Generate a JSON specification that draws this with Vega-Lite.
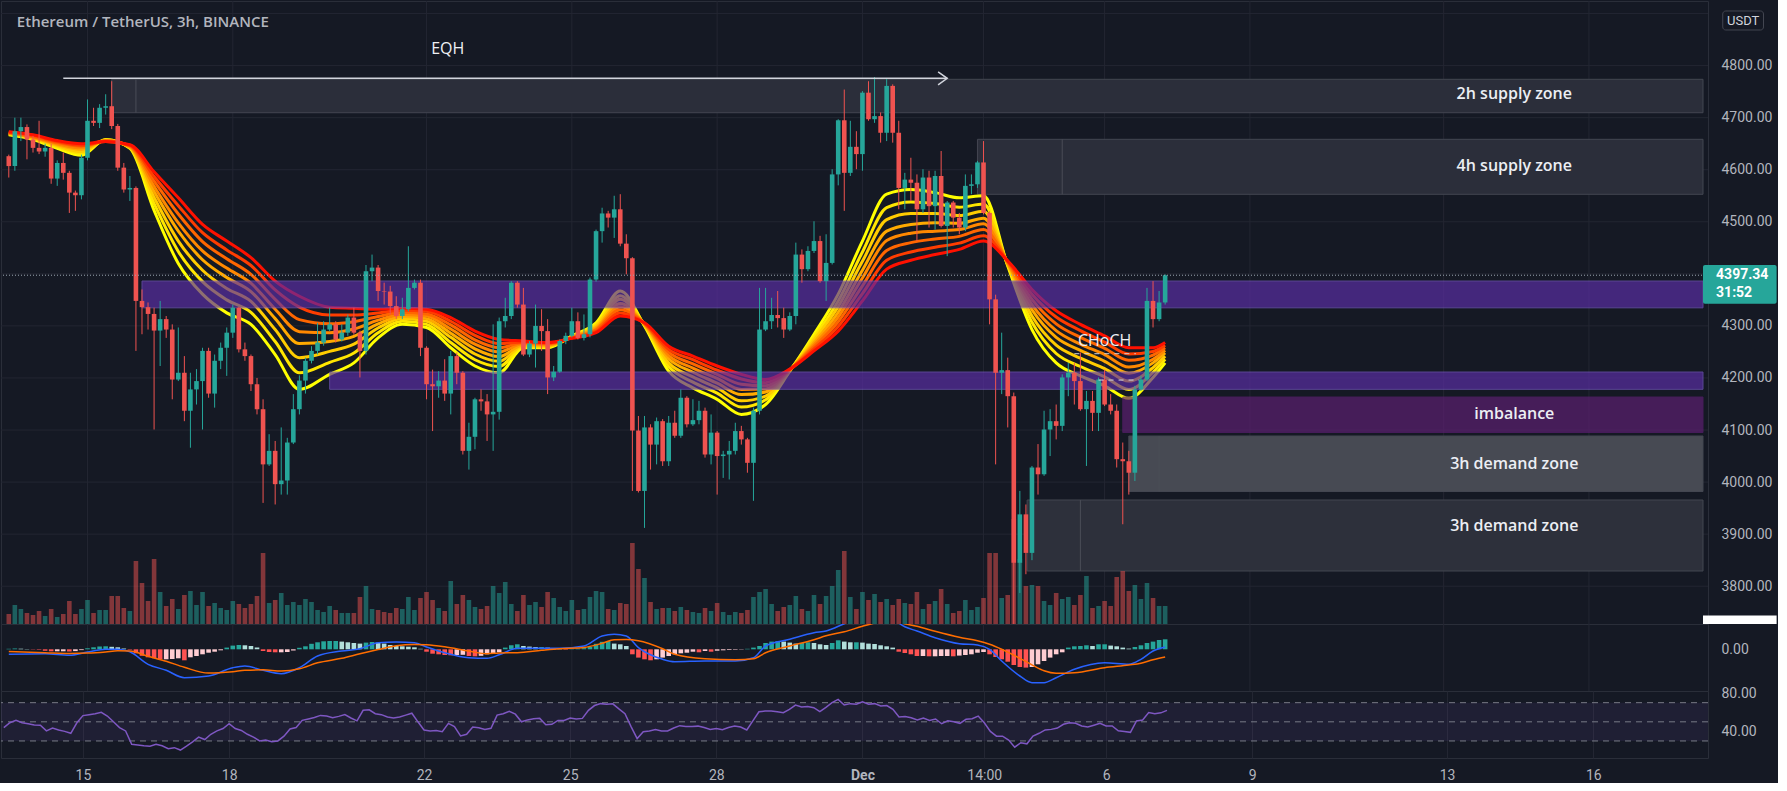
{
"$schema":"https://vega.github.io/schema/vega-lite/v6.json",
"background":"#151924",
"padding":0,
"spacing":0,
"bounds":"flush",
"config":{"view":{"stroke":"#2a2e39"},"axis":{"domain":false,"ticks":false,"labelColor":"#b2b5be","labelFont":"Roboto","labelFontSize":14,"gridColor":"#232632"}},
"datasets":{
"tk":[{"t":"2021-11-15T00:00Z"},{"t":"2021-11-18T00:00Z"},{"t":"2021-11-22T00:00Z"},{"t":"2021-11-25T00:00Z"},{"t":"2021-11-28T00:00Z"},{"t":"2021-12-01T00:00Z"},{"t":"2021-12-03T12:00Z"},{"t":"2021-12-06T00:00Z"},{"t":"2021-12-09T00:00Z"},{"t":"2021-12-13T00:00Z"},{"t":"2021-12-16T00:00Z"}],
"hg":[{"p":3800},{"p":3900},{"p":4000},{"p":4100},{"p":4200},{"p":4300},{"p":4400},{"p":4500},{"p":4600},{"p":4700},{"p":4800},{"p":4900}],
"zg":[{"n":"2h","t1":"2021-11-15T12:00Z","t2":"2021-12-18T08:31Z","p1":4709.5,"p2":4773.7},{"n":"4h","t1":"2021-12-03T09:00Z","t2":"2021-12-18T08:31Z","p1":4552.8,"p2":4658.4},{"n":"d1","t1":"2021-12-06T12:00Z","t2":"2021-12-18T08:31Z","p1":3981.9,"p2":4088.5},{"n":"d2","t1":"2021-12-04T09:36Z","t2":"2021-12-18T08:31Z","p1":3829.2,"p2":3965.6}],
"zl":[{"t":"2021-11-16T00:00Z","p1":4709.5,"p2":4773.7},{"t":"2021-12-05T03:00Z","p1":4552.8,"p2":4658.4},{"t":"2021-12-07T03:00Z","p1":3981.9,"p2":4088.5},{"t":"2021-12-05T12:00Z","p1":3829.2,"p2":3965.6}],
"zp":[{"n":"u","t1":"2021-11-16T03:00Z","t2":"2021-12-18T08:31Z","p1":4334.7,"p2":4386.2},{"n":"l","t1":"2021-11-20T00:00Z","t2":"2021-12-18T08:31Z","p1":4178.2,"p2":4211.4},{"n":"i","t1":"2021-12-06T09:00Z","t2":"2021-12-18T08:31Z","p1":4095.2,"p2":4163.4}],
"eqh":[{"t1":"2021-11-14T12:00Z","t2":"2021-12-02T18:00Z","p":4775.6}],
"dl":[{"t1":"2021-12-05T09:00Z","t2":"2021-12-06T15:30Z","p":4246.6},{"t1":"2021-12-05T21:00Z","t2":"2021-12-06T17:00Z","p":4196}],
"zt":[{"s":"2h supply zone","t":"2021-12-14T11:00Z","p":4746},{"s":"4h supply zone","t":"2021-12-14T11:00Z","p":4607},{"s":"imbalance","t":"2021-12-14T11:00Z","p":4130},{"s":"3h demand zone","t":"2021-12-14T11:00Z","p":4034},{"s":"3h demand zone","t":"2021-12-14T11:00Z","p":3915}],
"at":[{"s":"EQH","t":"2021-11-22T10:30Z","p":4832},{"s":"CHoCH","t":"2021-12-06T00:00Z","p":4271}],
"ti":[{"s":"Ethereum / TetherUS, 3h, BINANCE","t":"2021-11-13T13:00Z","p":4884}],
"tag":[{"t1":"2021-12-18T08:31Z","t2":"2021-12-19T21:00Z","p1":4342.6,"p2":4417.2}],
"tagt":[{"s":"4397.34","t":"2021-12-18T15:00Z","p":4397.8},{"s":"31:52","t":"2021-12-18T15:00Z","p":4362.5}],
"bad":[{"t1":"2021-12-18T18:18Z","t2":"2021-12-19T14:30Z","p1":4868.4,"p2":4904.9}],
"badt":[{"s":"USDT","t":"2021-12-19T04:24Z","p":4886.6}],
"lowb":[{"t1":"2021-12-18T08:31Z","t2":"2021-12-19T21:00Z","p1":3727.4,"p2":3743.5}],
"cp":[{"p":4397.34}],
"rl":[{"r":70},{"r":50},{"r":30}],
"band":[{"a":30,"b":70}],
"rb":[
{"t":"2021-11-13T09:00Z","e1":4667,"e2":4668,"e3":4669,"e4":4670,"e5":4671,"e6":4671,"e7":4672,"e8":4673},
{"t":"2021-11-13T21:00Z","e1":4658,"e2":4660,"e3":4661,"e4":4662,"e5":4663,"e6":4664,"e7":4666,"e8":4667},
{"t":"2021-11-14T09:00Z","e1":4641,"e2":4644,"e3":4646,"e4":4648,"e5":4650,"e6":4652,"e7":4654,"e8":4656},
{"t":"2021-11-14T21:00Z","e1":4628,"e2":4632,"e3":4635,"e4":4639,"e5":4642,"e6":4645,"e7":4647,"e8":4650},
{"t":"2021-11-15T09:00Z","e1":4658,"e2":4657,"e3":4657,"e4":4656,"e5":4656,"e6":4655,"e7":4654,"e8":4654},
{"t":"2021-11-15T21:00Z","e1":4641,"e2":4642,"e3":4643,"e4":4644,"e5":4645,"e6":4646,"e7":4647,"e8":4648},
{"t":"2021-11-16T09:00Z","e1":4522,"e2":4535,"e3":4547,"e4":4558,"e5":4568,"e6":4578,"e7":4587,"e8":4596},
{"t":"2021-11-16T21:00Z","e1":4420,"e2":4443,"e3":4463,"e4":4482,"e5":4498,"e6":4515,"e7":4531,"e8":4546},
{"t":"2021-11-17T09:00Z","e1":4361,"e2":4385,"e3":4407,"e4":4427,"e5":4444,"e6":4462,"e7":4479,"e8":4495},
{"t":"2021-11-17T21:00Z","e1":4325,"e2":4350,"e3":4372,"e4":4393,"e5":4411,"e6":4429,"e7":4446,"e8":4463},
{"t":"2021-11-18T09:00Z","e1":4303,"e2":4326,"e3":4347,"e4":4366,"e5":4382,"e6":4399,"e7":4416,"e8":4431},
{"t":"2021-11-18T21:00Z","e1":4245,"e2":4270,"e3":4293,"e4":4314,"e5":4332,"e6":4351,"e7":4369,"e8":4386},
{"t":"2021-11-19T09:00Z","e1":4178,"e2":4210,"e3":4239,"e4":4266,"e5":4289,"e6":4312,"e7":4336,"e8":4357},
{"t":"2021-11-20T00:00Z","e1":4207,"e2":4230,"e3":4251,"e4":4270,"e5":4287,"e6":4304,"e7":4321,"e8":4336},
{"t":"2021-11-20T12:00Z","e1":4229,"e2":4248,"e3":4265,"e4":4280,"e5":4294,"e6":4308,"e7":4321,"e8":4334},
{"t":"2021-11-21T00:00Z","e1":4277,"e2":4287,"e3":4296,"e4":4304,"e5":4311,"e6":4318,"e7":4325,"e8":4332},
{"t":"2021-11-21T12:00Z","e1":4303,"e2":4309,"e3":4314,"e4":4318,"e5":4322,"e6":4326,"e7":4330,"e8":4334},
{"t":"2021-11-22T00:00Z","e1":4297,"e2":4303,"e3":4309,"e4":4314,"e5":4319,"e6":4323,"e7":4328,"e8":4332},
{"t":"2021-11-22T12:00Z","e1":4258,"e2":4268,"e3":4278,"e4":4286,"e5":4294,"e6":4302,"e7":4309,"e8":4316},
{"t":"2021-11-23T00:00Z","e1":4223,"e2":4235,"e3":4246,"e4":4256,"e5":4265,"e6":4273,"e7":4282,"e8":4290},
{"t":"2021-11-23T12:00Z","e1":4210,"e2":4222,"e3":4232,"e4":4241,"e5":4250,"e6":4258,"e7":4266,"e8":4274},
{"t":"2021-11-24T00:00Z","e1":4258,"e2":4260,"e3":4262,"e4":4264,"e5":4266,"e6":4268,"e7":4269,"e8":4271},
{"t":"2021-11-24T12:00Z","e1":4258,"e2":4260,"e3":4261,"e4":4263,"e5":4264,"e6":4266,"e7":4267,"e8":4268},
{"t":"2021-11-25T00:00Z","e1":4281,"e2":4280,"e3":4279,"e4":4279,"e5":4278,"e6":4277,"e7":4277,"e8":4276},
{"t":"2021-11-25T12:00Z","e1":4306,"e2":4303,"e3":4300,"e4":4297,"e5":4294,"e6":4292,"e7":4289,"e8":4287},
{"t":"2021-11-26T00:00Z","e1":4367,"e2":4358,"e3":4351,"e4":4343,"e5":4337,"e6":4331,"e7":4325,"e8":4319},
{"t":"2021-11-26T12:00Z","e1":4300,"e2":4301,"e3":4302,"e4":4303,"e5":4304,"e6":4305,"e7":4305,"e8":4306},
{"t":"2021-11-27T00:00Z","e1":4213,"e2":4222,"e3":4229,"e4":4237,"e5":4243,"e6":4249,"e7":4255,"e8":4261},
{"t":"2021-11-27T12:00Z","e1":4181,"e2":4192,"e3":4202,"e4":4211,"e5":4219,"e6":4227,"e7":4235,"e8":4242},
{"t":"2021-11-28T00:00Z","e1":4159,"e2":4171,"e3":4181,"e4":4190,"e5":4199,"e6":4207,"e7":4215,"e8":4223},
{"t":"2021-11-28T12:00Z","e1":4130,"e2":4144,"e3":4156,"e4":4168,"e5":4178,"e6":4188,"e7":4198,"e8":4207},
{"t":"2021-11-29T00:00Z","e1":4149,"e2":4158,"e3":4165,"e4":4173,"e5":4179,"e6":4185,"e7":4191,"e8":4197},
{"t":"2021-11-29T12:00Z","e1":4213,"e2":4214,"e3":4214,"e4":4215,"e5":4215,"e6":4216,"e7":4216,"e8":4217},
{"t":"2021-11-30T00:00Z","e1":4284,"e2":4278,"e3":4273,"e4":4268,"e5":4264,"e6":4260,"e7":4256,"e8":4252},
{"t":"2021-11-30T12:00Z","e1":4361,"e2":4348,"e3":4337,"e4":4326,"e5":4317,"e6":4308,"e7":4299,"e8":4290},
{"t":"2021-12-01T00:00Z","e1":4463,"e2":4442,"e3":4424,"e4":4407,"e5":4392,"e6":4377,"e7":4362,"e8":4348},
{"t":"2021-12-01T12:00Z","e1":4553,"e2":4527,"e3":4504,"e4":4482,"e5":4464,"e6":4445,"e7":4426,"e8":4409},
{"t":"2021-12-02T00:00Z","e1":4562,"e2":4538,"e3":4516,"e4":4495,"e5":4478,"e6":4460,"e7":4442,"e8":4426},
{"t":"2021-12-02T12:00Z","e1":4556,"e2":4535,"e3":4516,"e4":4498,"e5":4482,"e6":4467,"e7":4451,"e8":4437},
{"t":"2021-12-03T00:00Z","e1":4546,"e2":4528,"e3":4512,"e4":4497,"e5":4485,"e6":4472,"e7":4459,"e8":4447},
{"t":"2021-12-03T12:00Z","e1":4550,"e2":4534,"e3":4520,"e4":4507,"e5":4496,"e6":4485,"e7":4473,"e8":4463},
{"t":"2021-12-04T00:00Z","e1":4415,"e2":4417,"e3":4418,"e4":4420,"e5":4421,"e6":4423,"e7":4424,"e8":4425},
{"t":"2021-12-04T12:00Z","e1":4293,"e2":4307,"e3":4319,"e4":4331,"e5":4341,"e6":4351,"e7":4361,"e8":4370},
{"t":"2021-12-05T00:00Z","e1":4229,"e2":4247,"e3":4263,"e4":4278,"e5":4291,"e6":4304,"e7":4317,"e8":4329},
{"t":"2021-12-05T12:00Z","e1":4204,"e2":4222,"e3":4238,"e4":4253,"e5":4265,"e6":4278,"e7":4291,"e8":4303},
{"t":"2021-12-06T00:00Z","e1":4185,"e2":4202,"e3":4218,"e4":4232,"e5":4245,"e6":4257,"e7":4269,"e8":4281},
{"t":"2021-12-06T12:00Z","e1":4161,"e2":4178,"e3":4194,"e4":4209,"e5":4221,"e6":4234,"e7":4246,"e8":4258},
{"t":"2021-12-07T00:00Z","e1":4201,"e2":4211,"e3":4220,"e4":4229,"e5":4236,"e6":4244,"e7":4251,"e8":4258},
{"t":"2021-12-07T06:00Z","e1":4229,"e2":4236,"e3":4242,"e4":4248,"e5":4253,"e6":4258,"e7":4263,"e8":4268}
],
"ml":[
{"t":"2021-11-13T09:00Z","b":-5,"s":-2.3},{"t":"2021-11-14T03:00Z","b":-4.4,"s":-3.4},{"t":"2021-11-14T15:00Z","b":-6,"s":-4.2},{"t":"2021-11-15T00:00Z","b":-2.8,"s":-3.8},{"t":"2021-11-15T09:00Z","b":0,"s":-2.6},{"t":"2021-11-15T15:00Z","b":0,"s":-1.5},{"t":"2021-11-15T21:00Z","b":-2.5,"s":-1.8},{"t":"2021-11-16T06:00Z","b":-15,"s":-7},{"t":"2021-11-16T15:00Z","b":-21,"s":-12},{"t":"2021-11-17T00:00Z","b":-28.4,"s":-18},{"t":"2021-11-17T12:00Z","b":-26.7,"s":-23.8},{"t":"2021-11-18T00:00Z","b":-18.4,"s":-22.4},{"t":"2021-11-18T06:00Z","b":-16.7,"s":-21},{"t":"2021-11-18T15:00Z","b":-21,"s":-20.5},{"t":"2021-11-19T00:00Z","b":-24.4,"s":-21.7},{"t":"2021-11-19T09:00Z","b":-18.4,"s":-19.5},{"t":"2021-11-19T18:00Z","b":-6.7,"s":-13.5},{"t":"2021-11-20T06:00Z","b":-1.7,"s":-9},{"t":"2021-11-20T15:00Z","b":0.6,"s":-4.5},{"t":"2021-11-21T00:00Z","b":6.6,"s":-0.3},{"t":"2021-11-21T09:00Z","b":7.3,"s":3.5},{"t":"2021-11-21T18:00Z","b":6.6,"s":4.8},{"t":"2021-11-22T00:00Z","b":2.3,"s":4.5},{"t":"2021-11-22T09:00Z","b":-3.4,"s":2.5},{"t":"2021-11-22T21:00Z","b":-8.4,"s":-1.8},{"t":"2021-11-23T06:00Z","b":-9,"s":-4.5},{"t":"2021-11-23T12:00Z","b":-5.5,"s":-3.6},{"t":"2021-11-23T21:00Z","b":1,"s":-3.4},{"t":"2021-11-24T09:00Z","b":1,"s":-1},{"t":"2021-11-24T18:00Z","b":1,"s":0.6},{"t":"2021-11-25T06:00Z","b":3.3,"s":1.8},{"t":"2021-11-25T15:00Z","b":13.3,"s":6},{"t":"2021-11-25T21:00Z","b":15,"s":9.5},{"t":"2021-11-26T03:00Z","b":13.3,"s":9.8},{"t":"2021-11-26T09:00Z","b":1.6,"s":8.5},{"t":"2021-11-26T21:00Z","b":-10,"s":0.5},{"t":"2021-11-27T03:00Z","b":-12.4,"s":-5},{"t":"2021-11-27T18:00Z","b":-11.7,"s":-9.5},{"t":"2021-11-28T09:00Z","b":-11.7,"s":-10.5},{"t":"2021-11-28T18:00Z","b":-8.4,"s":-9.5},{"t":"2021-11-29T00:00Z","b":3.3,"s":-3.5},{"t":"2021-11-29T12:00Z","b":10,"s":3.3},{"t":"2021-11-30T00:00Z","b":16.6,"s":9.5},{"t":"2021-11-30T06:00Z","b":18.3,"s":13.5},{"t":"2021-11-30T15:00Z","b":25.6,"s":17.5},{"t":"2021-12-01T00:00Z","b":33,"s":23},{"t":"2021-12-01T09:00Z","b":34,"s":27.5},{"t":"2021-12-01T15:00Z","b":30,"s":28.5},{"t":"2021-12-01T21:00Z","b":22.5,"s":25.5},{"t":"2021-12-02T03:00Z","b":18.3,"s":23},{"t":"2021-12-02T12:00Z","b":11.6,"s":18},{"t":"2021-12-03T00:00Z","b":5.6,"s":12},{"t":"2021-12-03T09:00Z","b":4.3,"s":8.5},{"t":"2021-12-03T15:00Z","b":0,"s":5},{"t":"2021-12-03T21:00Z","b":-11.7,"s":0},{"t":"2021-12-04T06:00Z","b":-26.7,"s":-9},{"t":"2021-12-04T12:00Z","b":-33.4,"s":-15.5},{"t":"2021-12-04T18:00Z","b":-33.4,"s":-21.5},{"t":"2021-12-05T00:00Z","b":-28.4,"s":-24},{"t":"2021-12-05T09:00Z","b":-20,"s":-23.4},{"t":"2021-12-06T00:00Z","b":-13.4,"s":-18.4},{"t":"2021-12-06T12:00Z","b":-15,"s":-15.7},{"t":"2021-12-06T18:00Z","b":-10,"s":-14},{"t":"2021-12-07T00:00Z","b":-1.7,"s":-10.5},{"t":"2021-12-07T06:00Z","b":2.3,"s":-7.7}
],
"c":[
{"t":"2021-11-13T09:00Z","o":4626,"h":4629,"l":4585,"c":4607,"v":10,"m":0.5,"r":44},
{"t":"2021-11-13T12:00Z","o":4607,"h":4700,"l":4598,"c":4674,"v":19,"m":0.8,"r":49},
{"t":"2021-11-13T15:00Z","o":4674,"h":4700,"l":4655,"c":4682,"v":15,"m":0.6,"r":51.5},
{"t":"2021-11-13T18:00Z","o":4682,"h":4687,"l":4620,"c":4658,"v":11,"m":0.3,"r":49},
{"t":"2021-11-13T21:00Z","o":4658,"h":4665,"l":4633,"c":4642,"v":9,"m":-0.3,"r":48},
{"t":"2021-11-14T00:00Z","o":4642,"h":4694,"l":4630,"c":4635,"v":13,"m":-0.5,"r":46.7},
{"t":"2021-11-14T03:00Z","o":4635,"h":4650,"l":4625,"c":4642,"v":8,"m":-1.5,"r":46.5},
{"t":"2021-11-14T06:00Z","o":4642,"h":4650,"l":4573,"c":4583,"v":15,"m":-2,"r":40.5},
{"t":"2021-11-14T09:00Z","o":4583,"h":4618,"l":4569,"c":4613,"v":7,"m":-2,"r":43.5},
{"t":"2021-11-14T12:00Z","o":4613,"h":4633,"l":4581,"c":4594,"v":10,"m":-2,"r":41.5},
{"t":"2021-11-14T15:00Z","o":4594,"h":4598,"l":4517,"c":4556,"v":23,"m":-2.2,"r":40},
{"t":"2021-11-14T18:00Z","o":4556,"h":4560,"l":4521,"c":4551,"v":10,"m":-1.8,"r":38},
{"t":"2021-11-14T21:00Z","o":4551,"h":4629,"l":4543,"c":4623,"v":15,"m":-0.8,"r":49},
{"t":"2021-11-15T00:00Z","o":4623,"h":4735,"l":4618,"c":4694,"v":24,"m":1,"r":56.5},
{"t":"2021-11-15T03:00Z","o":4694,"h":4719,"l":4684,"c":4690,"v":11,"m":2,"r":57.5},
{"t":"2021-11-15T06:00Z","o":4690,"h":4726,"l":4680,"c":4719,"v":14,"m":2.8,"r":58.5},
{"t":"2021-11-15T09:00Z","o":4719,"h":4745,"l":4706,"c":4722,"v":14,"m":3,"r":60},
{"t":"2021-11-15T12:00Z","o":4722,"h":4770,"l":4678,"c":4684,"v":28,"m":2.5,"r":56},
{"t":"2021-11-15T15:00Z","o":4684,"h":4688,"l":4598,"c":4604,"v":28,"m":2,"r":50},
{"t":"2021-11-15T18:00Z","o":4604,"h":4613,"l":4556,"c":4562,"v":16,"m":0.8,"r":44},
{"t":"2021-11-15T21:00Z","o":4562,"h":4588,"l":4540,"c":4565,"v":13,"m":-0.5,"r":40.5},
{"t":"2021-11-16T00:00Z","o":4565,"h":4568,"l":4252,"c":4348,"v":63,"m":-4,"r":26.5},
{"t":"2021-11-16T03:00Z","o":4348,"h":4370,"l":4284,"c":4336,"v":41,"m":-6.5,"r":25.8},
{"t":"2021-11-16T06:00Z","o":4336,"h":4345,"l":4293,"c":4323,"v":23,"m":-8,"r":25},
{"t":"2021-11-16T09:00Z","o":4323,"h":4335,"l":4101,"c":4291,"v":65,"m":-9,"r":24.5},
{"t":"2021-11-16T12:00Z","o":4291,"h":4348,"l":4223,"c":4313,"v":32,"m":-10,"r":26.5},
{"t":"2021-11-16T15:00Z","o":4313,"h":4319,"l":4277,"c":4293,"v":18,"m":-10,"r":25},
{"t":"2021-11-16T18:00Z","o":4293,"h":4303,"l":4159,"c":4197,"v":25,"m":-9.7,"r":22},
{"t":"2021-11-16T21:00Z","o":4197,"h":4297,"l":4194,"c":4210,"v":15,"m":-9,"r":23},
{"t":"2021-11-17T00:00Z","o":4210,"h":4242,"l":4117,"c":4137,"v":29,"m":-11,"r":20.5},
{"t":"2021-11-17T03:00Z","o":4137,"h":4210,"l":4066,"c":4178,"v":33,"m":-8,"r":24.5},
{"t":"2021-11-17T06:00Z","o":4178,"h":4217,"l":4149,"c":4194,"v":19,"m":-6.7,"r":29},
{"t":"2021-11-17T09:00Z","o":4194,"h":4258,"l":4101,"c":4252,"v":32,"m":-5,"r":34},
{"t":"2021-11-17T12:00Z","o":4252,"h":4258,"l":4162,"c":4170,"v":18,"m":-3.4,"r":31.5},
{"t":"2021-11-17T15:00Z","o":4170,"h":4245,"l":4143,"c":4233,"v":21,"m":-2.4,"r":37},
{"t":"2021-11-17T18:00Z","o":4233,"h":4268,"l":4217,"c":4258,"v":16,"m":-1,"r":40.5},
{"t":"2021-11-17T21:00Z","o":4258,"h":4297,"l":4204,"c":4287,"v":14,"m":1.7,"r":43},
{"t":"2021-11-18T00:00Z","o":4287,"h":4341,"l":4277,"c":4335,"v":23,"m":3.7,"r":48},
{"t":"2021-11-18T03:00Z","o":4335,"h":4336,"l":4249,"c":4255,"v":20,"m":4.3,"r":43},
{"t":"2021-11-18T06:00Z","o":4255,"h":4268,"l":4233,"c":4242,"v":16,"m":4,"r":41},
{"t":"2021-11-18T09:00Z","o":4242,"h":4245,"l":4175,"c":4188,"v":20,"m":3.3,"r":37},
{"t":"2021-11-18T12:00Z","o":4188,"h":4200,"l":4130,"c":4140,"v":28,"m":1.7,"r":34},
{"t":"2021-11-18T15:00Z","o":4140,"h":4159,"l":3960,"c":4034,"v":71,"m":-1.7,"r":30},
{"t":"2021-11-18T18:00Z","o":4034,"h":4092,"l":4031,"c":4060,"v":21,"m":-2.7,"r":31},
{"t":"2021-11-18T21:00Z","o":4060,"h":4079,"l":3957,"c":3996,"v":24,"m":-3,"r":29.3},
{"t":"2021-11-19T00:00Z","o":3996,"h":4105,"l":3976,"c":4003,"v":31,"m":-3,"r":30},
{"t":"2021-11-19T03:00Z","o":4003,"h":4085,"l":3976,"c":4076,"v":19,"m":-2.7,"r":35},
{"t":"2021-11-19T06:00Z","o":4076,"h":4169,"l":4073,"c":4140,"v":22,"m":-1.2,"r":42.5},
{"t":"2021-11-19T09:00Z","o":4140,"h":4205,"l":4130,"c":4195,"v":19,"m":1.5,"r":44},
{"t":"2021-11-19T12:00Z","o":4195,"h":4239,"l":4170,"c":4233,"v":25,"m":3,"r":51.5},
{"t":"2021-11-19T15:00Z","o":4233,"h":4261,"l":4228,"c":4252,"v":22,"m":5.5,"r":53},
{"t":"2021-11-19T18:00Z","o":4252,"h":4306,"l":4245,"c":4268,"v":14,"m":7,"r":54.5},
{"t":"2021-11-19T21:00Z","o":4268,"h":4309,"l":4262,"c":4293,"v":12,"m":8,"r":56.7},
{"t":"2021-11-20T00:00Z","o":4293,"h":4335,"l":4290,"c":4303,"v":18,"m":8.3,"r":56},
{"t":"2021-11-20T03:00Z","o":4303,"h":4309,"l":4268,"c":4274,"v":14,"m":8.3,"r":54.3},
{"t":"2021-11-20T06:00Z","o":4274,"h":4303,"l":4270,"c":4287,"v":11,"m":7.7,"r":55.7},
{"t":"2021-11-20T09:00Z","o":4287,"h":4322,"l":4281,"c":4316,"v":11,"m":7,"r":57.5},
{"t":"2021-11-20T12:00Z","o":4316,"h":4335,"l":4283,"c":4287,"v":11,"m":6.3,"r":54},
{"t":"2021-11-20T15:00Z","o":4287,"h":4291,"l":4201,"c":4252,"v":27,"m":5.7,"r":51},
{"t":"2021-11-20T18:00Z","o":4252,"h":4417,"l":4245,"c":4405,"v":38,"m":6.7,"r":62},
{"t":"2021-11-20T21:00Z","o":4405,"h":4437,"l":4386,"c":4412,"v":15,"m":7.3,"r":62.5},
{"t":"2021-11-21T00:00Z","o":4412,"h":4417,"l":4348,"c":4367,"v":14,"m":6.7,"r":58.5},
{"t":"2021-11-21T03:00Z","o":4367,"h":4383,"l":4341,"c":4366,"v":12,"m":5.7,"r":57.5},
{"t":"2021-11-21T06:00Z","o":4366,"h":4377,"l":4322,"c":4338,"v":11,"m":4.3,"r":55},
{"t":"2021-11-21T09:00Z","o":4338,"h":4357,"l":4313,"c":4319,"v":16,"m":3.3,"r":54},
{"t":"2021-11-21T12:00Z","o":4319,"h":4354,"l":4313,"c":4332,"v":15,"m":3,"r":55},
{"t":"2021-11-21T15:00Z","o":4332,"h":4453,"l":4328,"c":4373,"v":27,"m":2.6,"r":57},
{"t":"2021-11-21T18:00Z","o":4373,"h":4389,"l":4370,"c":4383,"v":14,"m":2,"r":59},
{"t":"2021-11-21T21:00Z","o":4383,"h":4389,"l":4242,"c":4258,"v":26,"m":0.5,"r":50},
{"t":"2021-11-22T00:00Z","o":4258,"h":4261,"l":4159,"c":4188,"v":32,"m":-2.4,"r":41.5},
{"t":"2021-11-22T03:00Z","o":4188,"h":4216,"l":4098,"c":4184,"v":24,"m":-4.4,"r":40.4},
{"t":"2021-11-22T06:00Z","o":4184,"h":4213,"l":4162,"c":4195,"v":16,"m":-5,"r":41},
{"t":"2021-11-22T09:00Z","o":4195,"h":4236,"l":4156,"c":4170,"v":13,"m":-5.7,"r":39.7},
{"t":"2021-11-22T12:00Z","o":4170,"h":4252,"l":4130,"c":4242,"v":43,"m":-6,"r":48.4},
{"t":"2021-11-22T15:00Z","o":4242,"h":4249,"l":4188,"c":4210,"v":20,"m":-5.7,"r":45},
{"t":"2021-11-22T18:00Z","o":4210,"h":4213,"l":4053,"c":4060,"v":29,"m":-5.5,"r":35.2},
{"t":"2021-11-22T21:00Z","o":4060,"h":4114,"l":4024,"c":4087,"v":24,"m":-6.7,"r":37},
{"t":"2021-11-23T00:00Z","o":4087,"h":4162,"l":4063,"c":4159,"v":17,"m":-7,"r":44.6},
{"t":"2021-11-23T03:00Z","o":4159,"h":4178,"l":4137,"c":4155,"v":15,"m":-6.5,"r":43.9},
{"t":"2021-11-23T06:00Z","o":4155,"h":4169,"l":4079,"c":4130,"v":18,"m":-5,"r":42},
{"t":"2021-11-23T09:00Z","o":4130,"h":4303,"l":4060,"c":4135,"v":38,"m":-4.4,"r":43.2},
{"t":"2021-11-23T12:00Z","o":4135,"h":4316,"l":4120,"c":4309,"v":31,"m":-3,"r":57},
{"t":"2021-11-23T15:00Z","o":4309,"h":4354,"l":4297,"c":4319,"v":42,"m":1.7,"r":58.5},
{"t":"2021-11-23T18:00Z","o":4319,"h":4386,"l":4313,"c":4383,"v":20,"m":4,"r":61},
{"t":"2021-11-23T21:00Z","o":4383,"h":4386,"l":4335,"c":4341,"v":13,"m":5,"r":58},
{"t":"2021-11-24T00:00Z","o":4341,"h":4373,"l":4242,"c":4245,"v":29,"m":3.3,"r":50},
{"t":"2021-11-24T03:00Z","o":4245,"h":4271,"l":4240,"c":4266,"v":19,"m":2.7,"r":52},
{"t":"2021-11-24T06:00Z","o":4266,"h":4341,"l":4220,"c":4300,"v":22,"m":2.3,"r":53.3},
{"t":"2021-11-24T09:00Z","o":4300,"h":4332,"l":4252,"c":4290,"v":17,"m":2.3,"r":53.6},
{"t":"2021-11-24T12:00Z","o":4290,"h":4313,"l":4169,"c":4201,"v":32,"m":1.7,"r":47},
{"t":"2021-11-24T15:00Z","o":4201,"h":4223,"l":4194,"c":4212,"v":26,"m":0.8,"r":47.4},
{"t":"2021-11-24T18:00Z","o":4212,"h":4274,"l":4210,"c":4271,"v":17,"m":0.5,"r":51.5},
{"t":"2021-11-24T21:00Z","o":4271,"h":4287,"l":4265,"c":4281,"v":13,"m":-0.5,"r":51.5},
{"t":"2021-11-25T00:00Z","o":4281,"h":4335,"l":4278,"c":4309,"v":24,"m":0.4,"r":54},
{"t":"2021-11-25T03:00Z","o":4309,"h":4326,"l":4274,"c":4277,"v":14,"m":0.8,"r":53},
{"t":"2021-11-25T06:00Z","o":4277,"h":4322,"l":4272,"c":4284,"v":15,"m":1.2,"r":53.6},
{"t":"2021-11-25T09:00Z","o":4284,"h":4393,"l":4278,"c":4389,"v":27,"m":2.3,"r":62},
{"t":"2021-11-25T12:00Z","o":4389,"h":4485,"l":4385,"c":4482,"v":33,"m":5.5,"r":67},
{"t":"2021-11-25T15:00Z","o":4482,"h":4527,"l":4460,"c":4516,"v":32,"m":7.5,"r":69},
{"t":"2021-11-25T18:00Z","o":4516,"h":4521,"l":4489,"c":4508,"v":15,"m":8.3,"r":68.3},
{"t":"2021-11-25T21:00Z","o":4508,"h":4550,"l":4469,"c":4524,"v":14,"m":5.7,"r":68.8},
{"t":"2021-11-26T00:00Z","o":4524,"h":4553,"l":4453,"c":4458,"v":21,"m":5,"r":63.5},
{"t":"2021-11-26T03:00Z","o":4458,"h":4476,"l":4399,"c":4430,"v":20,"m":3.3,"r":58.5},
{"t":"2021-11-26T06:00Z","o":4430,"h":4432,"l":3983,"c":4099,"v":81,"m":-5,"r":45},
{"t":"2021-11-26T09:00Z","o":4099,"h":4127,"l":3980,"c":3983,"v":55,"m":-8.3,"r":32.5},
{"t":"2021-11-26T12:00Z","o":3983,"h":4127,"l":3912,"c":4105,"v":46,"m":-10,"r":39.7},
{"t":"2021-11-26T15:00Z","o":4105,"h":4111,"l":4024,"c":4072,"v":22,"m":-11,"r":40.4},
{"t":"2021-11-26T18:00Z","o":4072,"h":4124,"l":4034,"c":4117,"v":15,"m":-10,"r":42},
{"t":"2021-11-26T21:00Z","o":4117,"h":4121,"l":4031,"c":4040,"v":16,"m":-8.3,"r":40.5},
{"t":"2021-11-27T00:00Z","o":4040,"h":4127,"l":4031,"c":4114,"v":16,"m":-6.7,"r":40.5},
{"t":"2021-11-27T03:00Z","o":4114,"h":4137,"l":4085,"c":4089,"v":13,"m":-5,"r":43.5},
{"t":"2021-11-27T06:00Z","o":4089,"h":4178,"l":4085,"c":4162,"v":17,"m":-4,"r":46},
{"t":"2021-11-27T09:00Z","o":4162,"h":4165,"l":4105,"c":4111,"v":14,"m":-3.4,"r":45},
{"t":"2021-11-27T12:00Z","o":4111,"h":4159,"l":4108,"c":4119,"v":12,"m":-2.4,"r":45.2},
{"t":"2021-11-27T15:00Z","o":4119,"h":4156,"l":4111,"c":4137,"v":11,"m":-3,"r":45.5},
{"t":"2021-11-27T18:00Z","o":4137,"h":4143,"l":4047,"c":4053,"v":16,"m":-1.7,"r":44},
{"t":"2021-11-27T21:00Z","o":4053,"h":4130,"l":4034,"c":4095,"v":13,"m":-2.4,"r":42.1},
{"t":"2021-11-28T00:00Z","o":4095,"h":4098,"l":3976,"c":4050,"v":21,"m":-1.4,"r":43},
{"t":"2021-11-28T03:00Z","o":4050,"h":4060,"l":4008,"c":4053,"v":12,"m":-1,"r":41.8},
{"t":"2021-11-28T06:00Z","o":4053,"h":4079,"l":4005,"c":4060,"v":9,"m":-0.7,"r":44},
{"t":"2021-11-28T09:00Z","o":4060,"h":4114,"l":4053,"c":4098,"v":12,"m":-0.5,"r":45.6},
{"t":"2021-11-28T12:00Z","o":4098,"h":4108,"l":4072,"c":4082,"v":11,"m":-0.3,"r":44.5},
{"t":"2021-11-28T15:00Z","o":4082,"h":4085,"l":4018,"c":4037,"v":14,"m":0.5,"r":41.5},
{"t":"2021-11-28T18:00Z","o":4037,"h":4143,"l":3964,"c":4137,"v":27,"m":1.7,"r":51},
{"t":"2021-11-28T21:00Z","o":4137,"h":4373,"l":4130,"c":4293,"v":32,"m":3.3,"r":60.5},
{"t":"2021-11-29T00:00Z","o":4293,"h":4373,"l":4290,"c":4309,"v":35,"m":6.3,"r":61.3},
{"t":"2021-11-29T03:00Z","o":4309,"h":4354,"l":4294,"c":4321,"v":20,"m":7.7,"r":61.3},
{"t":"2021-11-29T06:00Z","o":4321,"h":4367,"l":4297,"c":4315,"v":13,"m":8,"r":60.5},
{"t":"2021-11-29T09:00Z","o":4315,"h":4335,"l":4277,"c":4293,"v":17,"m":7.7,"r":59.6},
{"t":"2021-11-29T12:00Z","o":4293,"h":4326,"l":4290,"c":4319,"v":19,"m":6.7,"r":63},
{"t":"2021-11-29T15:00Z","o":4319,"h":4460,"l":4303,"c":4437,"v":28,"m":5.7,"r":67.5},
{"t":"2021-11-29T18:00Z","o":4437,"h":4447,"l":4383,"c":4409,"v":15,"m":6.3,"r":65.5},
{"t":"2021-11-29T21:00Z","o":4409,"h":4453,"l":4405,"c":4444,"v":13,"m":7,"r":66},
{"t":"2021-11-30T00:00Z","o":4444,"h":4501,"l":4440,"c":4463,"v":29,"m":6.3,"r":64.8},
{"t":"2021-11-30T03:00Z","o":4463,"h":4473,"l":4383,"c":4386,"v":20,"m":5,"r":60.6},
{"t":"2021-11-30T06:00Z","o":4386,"h":4476,"l":4348,"c":4421,"v":28,"m":4.3,"r":65},
{"t":"2021-11-30T09:00Z","o":4421,"h":4601,"l":4418,"c":4591,"v":38,"m":6.3,"r":70},
{"t":"2021-11-30T12:00Z","o":4591,"h":4697,"l":4570,"c":4695,"v":54,"m":9,"r":73.5},
{"t":"2021-11-30T15:00Z","o":4695,"h":4754,"l":4521,"c":4594,"v":73,"m":7.7,"r":67.6},
{"t":"2021-11-30T18:00Z","o":4594,"h":4694,"l":4588,"c":4644,"v":27,"m":7,"r":69},
{"t":"2021-11-30T21:00Z","o":4644,"h":4674,"l":4601,"c":4630,"v":15,"m":7,"r":68.3},
{"t":"2021-12-01T00:00Z","o":4630,"h":4751,"l":4598,"c":4748,"v":32,"m":6.7,"r":71},
{"t":"2021-12-01T03:00Z","o":4748,"h":4770,"l":4694,"c":4697,"v":24,"m":5.7,"r":68.3},
{"t":"2021-12-01T06:00Z","o":4697,"h":4778,"l":4690,"c":4703,"v":30,"m":5.3,"r":69},
{"t":"2021-12-01T09:00Z","o":4703,"h":4710,"l":4652,"c":4671,"v":22,"m":4,"r":66.5},
{"t":"2021-12-01T12:00Z","o":4671,"h":4774,"l":4655,"c":4761,"v":25,"m":3,"r":67},
{"t":"2021-12-01T15:00Z","o":4761,"h":4764,"l":4652,"c":4671,"v":19,"m":1.7,"r":63},
{"t":"2021-12-01T18:00Z","o":4671,"h":4694,"l":4524,"c":4565,"v":25,"m":-2.4,"r":55},
{"t":"2021-12-01T21:00Z","o":4565,"h":4594,"l":4524,"c":4581,"v":21,"m":-3.7,"r":55.5},
{"t":"2021-12-02T00:00Z","o":4581,"h":4623,"l":4540,"c":4575,"v":20,"m":-5,"r":54.3},
{"t":"2021-12-02T03:00Z","o":4575,"h":4591,"l":4463,"c":4524,"v":32,"m":-6.7,"r":52},
{"t":"2021-12-02T06:00Z","o":4524,"h":4601,"l":4517,"c":4585,"v":15,"m":-6.7,"r":54},
{"t":"2021-12-02T09:00Z","o":4585,"h":4598,"l":4489,"c":4530,"v":20,"m":-7,"r":51.5},
{"t":"2021-12-02T12:00Z","o":4530,"h":4598,"l":4485,"c":4588,"v":23,"m":-7,"r":53},
{"t":"2021-12-02T15:00Z","o":4588,"h":4636,"l":4489,"c":4492,"v":35,"m":-6.7,"r":48},
{"t":"2021-12-02T18:00Z","o":4492,"h":4540,"l":4434,"c":4537,"v":20,"m":-6.7,"r":51},
{"t":"2021-12-02T21:00Z","o":4537,"h":4540,"l":4489,"c":4508,"v":11,"m":-7,"r":50},
{"t":"2021-12-03T00:00Z","o":4508,"h":4517,"l":4476,"c":4489,"v":13,"m":-6.3,"r":48.4},
{"t":"2021-12-03T03:00Z","o":4489,"h":4591,"l":4482,"c":4569,"v":24,"m":-5.7,"r":52.6},
{"t":"2021-12-03T06:00Z","o":4569,"h":4591,"l":4553,"c":4572,"v":14,"m":-5,"r":53.3},
{"t":"2021-12-03T09:00Z","o":4572,"h":4617,"l":4565,"c":4614,"v":17,"m":-3.4,"r":56},
{"t":"2021-12-03T12:00Z","o":4614,"h":4655,"l":4514,"c":4517,"v":26,"m":-2.7,"r":49},
{"t":"2021-12-03T15:00Z","o":4517,"h":4520,"l":4303,"c":4351,"v":71,"m":-5,"r":40},
{"t":"2021-12-03T18:00Z","o":4351,"h":4360,"l":4034,"c":4210,"v":71,"m":-7.7,"r":35},
{"t":"2021-12-03T21:00Z","o":4210,"h":4287,"l":4169,"c":4215,"v":26,"m":-10,"r":35},
{"t":"2021-12-04T00:00Z","o":4215,"h":4239,"l":4105,"c":4165,"v":29,"m":-12.4,"r":31},
{"t":"2021-12-04T03:00Z","o":4165,"h":4172,"l":3600,"c":3845,"v":105,"m":-15.7,"r":23.5},
{"t":"2021-12-04T06:00Z","o":3845,"h":3983,"l":3787,"c":3938,"v":65,"m":-17.7,"r":28.2},
{"t":"2021-12-04T09:00Z","o":3938,"h":3957,"l":3823,"c":3864,"v":38,"m":-18.3,"r":27},
{"t":"2021-12-04T12:00Z","o":3864,"h":4031,"l":3850,"c":4028,"v":39,"m":-17.7,"r":35.2},
{"t":"2021-12-04T15:00Z","o":4028,"h":4073,"l":3976,"c":4015,"v":38,"m":-15,"r":38},
{"t":"2021-12-04T18:00Z","o":4015,"h":4137,"l":4012,"c":4101,"v":23,"m":-11.7,"r":41.5},
{"t":"2021-12-04T21:00Z","o":4101,"h":4140,"l":4050,"c":4117,"v":19,"m":-8.3,"r":42.1},
{"t":"2021-12-05T00:00Z","o":4117,"h":4149,"l":4082,"c":4108,"v":31,"m":-5,"r":43.5},
{"t":"2021-12-05T03:00Z","o":4108,"h":4207,"l":4098,"c":4201,"v":25,"m":-3,"r":47.4},
{"t":"2021-12-05T06:00Z","o":4201,"h":4229,"l":4165,"c":4210,"v":27,"m":1.7,"r":49.1},
{"t":"2021-12-05T09:00Z","o":4210,"h":4229,"l":4149,"c":4194,"v":19,"m":3,"r":48.5},
{"t":"2021-12-05T12:00Z","o":4194,"h":4249,"l":4137,"c":4140,"v":29,"m":3.3,"r":45.6},
{"t":"2021-12-05T15:00Z","o":4140,"h":4175,"l":4031,"c":4156,"v":48,"m":4,"r":44.6},
{"t":"2021-12-05T18:00Z","o":4156,"h":4175,"l":4098,"c":4133,"v":16,"m":3.3,"r":46.5},
{"t":"2021-12-05T21:00Z","o":4133,"h":4201,"l":4098,"c":4197,"v":18,"m":5,"r":48.5},
{"t":"2021-12-06T00:00Z","o":4197,"h":4216,"l":4146,"c":4149,"v":23,"m":5,"r":45.6},
{"t":"2021-12-06T03:00Z","o":4149,"h":4169,"l":4130,"c":4137,"v":18,"m":3.7,"r":45.6},
{"t":"2021-12-06T06:00Z","o":4137,"h":4149,"l":4028,"c":4044,"v":47,"m":3,"r":40.6},
{"t":"2021-12-06T09:00Z","o":4044,"h":4076,"l":3919,"c":4040,"v":53,"m":1.7,"r":39.8},
{"t":"2021-12-06T12:00Z","o":4040,"h":4060,"l":3976,"c":4018,"v":33,"m":0.7,"r":39},
{"t":"2021-12-06T15:00Z","o":4018,"h":4185,"l":4002,"c":4178,"v":39,"m":2.3,"r":50.9},
{"t":"2021-12-06T18:00Z","o":4178,"h":4204,"l":4175,"c":4197,"v":25,"m":4,"r":51.9},
{"t":"2021-12-06T21:00Z","o":4197,"h":4373,"l":4194,"c":4348,"v":41,"m":6.3,"r":59.6},
{"t":"2021-12-07T00:00Z","o":4348,"h":4386,"l":4297,"c":4313,"v":26,"m":7.7,"r":58.5},
{"t":"2021-12-07T03:00Z","o":4313,"h":4367,"l":4309,"c":4345,"v":18,"m":9.3,"r":59.4},
{"t":"2021-12-07T06:00Z","o":4345,"h":4399,"l":4341,"c":4397.34,"v":18,"m":10,"r":62}
]
},
"vconcat":[
{
"width":1707,"height":623,
"resolve":{"scale":{"y":"independent","color":"independent","fill":"independent","stroke":"independent","opacity":"independent"}},
"layer":[
{"data":{"name":"tk"},"mark":{"type":"rule","color":"#232632","strokeWidth":1},
 "encoding":{"x":{"field":"t","type":"temporal","scale":{"type":"utc","domain":[{"year":2021,"month":11,"date":13,"hours":7,"minutes":37,"utc":true},{"year":2021,"month":12,"date":18,"hours":8,"minutes":31,"utc":true}]},"axis":null}}},
{"data":{"name":"hg"},"mark":{"type":"rule","color":"#232632","strokeWidth":1},
 "encoding":{"y":{"field":"p","type":"quantitative","scale":{"domain":[3727.4,4924.1],"nice":false,"zero":false},"axis":null}}},
{"data":{"name":"zg"},"mark":{"type":"rect","stroke":"#434651","strokeWidth":1},
 "encoding":{"x":{"field":"t1","type":"temporal","scale":{"type":"utc","domain":[{"year":2021,"month":11,"date":13,"hours":7,"minutes":37,"utc":true},{"year":2021,"month":12,"date":18,"hours":8,"minutes":31,"utc":true}]},"axis":null},"x2":{"field":"t2"},
 "y":{"field":"p1","type":"quantitative","scale":{"domain":[3727.4,4924.1],"nice":false,"zero":false},"axis":{"orient":"right","values":[3800,3900,4000,4100,4200,4300,4500,4600,4700,4800],"format":".2f","grid":false,"title":null,"labelPadding":13,"labelOverlap":false,"labelFlush":false}},"y2":{"field":"p2"},
 "color":{"field":"n","type":"nominal","scale":{"domain":["2h","4h","d1","d2"],"range":["#2b2e3a","#2b2e3a","#474a53","#2d303b"]},"legend":null}}},
{"data":{"name":"zl"},"mark":{"type":"rule","color":"#4a4d57","strokeWidth":1},
 "encoding":{"x":{"field":"t","type":"temporal","scale":{"type":"utc","domain":[{"year":2021,"month":11,"date":13,"hours":7,"minutes":37,"utc":true},{"year":2021,"month":12,"date":18,"hours":8,"minutes":31,"utc":true}]},"axis":null},
 "y":{"field":"p1","type":"quantitative","scale":{"domain":[3727.4,4924.1],"nice":false,"zero":false},"axis":null},"y2":{"field":"p2"}}},
{"data":{"name":"rb"},"transform":[{"fold":["e1","e2","e3","e4","e5","e6","e7","e8"],"as":["ln","p"]}],
 "mark":{"type":"line","strokeWidth":3,"interpolate":"monotone"},
 "encoding":{"x":{"field":"t","type":"temporal","scale":{"type":"utc","domain":[{"year":2021,"month":11,"date":13,"hours":7,"minutes":37,"utc":true},{"year":2021,"month":12,"date":18,"hours":8,"minutes":31,"utc":true}]},"axis":null},
 "y":{"field":"p","type":"quantitative","scale":{"domain":[3727.4,4924.1],"nice":false,"zero":false},"axis":null},
 "color":{"field":"ln","type":"nominal","scale":{"domain":["e1","e2","e3","e4","e5","e6","e7","e8"],"range":["#ffff00","#ffe600","#ffcc00","#ffaa00","#ff8800","#ff6600","#ff3d00","#ff1100"]},"legend":null}}},
{"data":{"name":"zp"},"mark":{"type":"rect","strokeWidth":1},
 "encoding":{"x":{"field":"t1","type":"temporal","scale":{"type":"utc","domain":[{"year":2021,"month":11,"date":13,"hours":7,"minutes":37,"utc":true},{"year":2021,"month":12,"date":18,"hours":8,"minutes":31,"utc":true}]},"axis":null},"x2":{"field":"t2"},
 "y":{"field":"p1","type":"quantitative","scale":{"domain":[3727.4,4924.1],"nice":false,"zero":false},"axis":null},"y2":{"field":"p2"},
 "fill":{"field":"n","type":"nominal","scale":{"domain":["u","l","i"],"range":["#5b2ea6","#5b2ea6","#5e1f73"]},"legend":null},
 "stroke":{"field":"n","type":"nominal","scale":{"domain":["u","l","i"],"range":["#7a5cc8","#7a5cc8","#5e1f73"]},"legend":null},
 "opacity":{"field":"n","type":"nominal","scale":{"domain":["u","l","i"],"range":[0.68,0.68,0.95]},"legend":null}}},
{"data":{"name":"c"},"mark":{"type":"bar","width":4.6,"opacity":0.5},
 "encoding":{"x":{"field":"t","type":"temporal","scale":{"type":"utc","domain":[{"year":2021,"month":11,"date":13,"hours":7,"minutes":37,"utc":true},{"year":2021,"month":12,"date":18,"hours":8,"minutes":31,"utc":true}]},"axis":null},
 "y":{"field":"v","type":"quantitative","scale":{"domain":[0,623],"nice":false},"axis":null},
 "color":{"condition":{"test":"datum.c >= datum.o","value":"#26a69a"},"value":"#ef5350"}}},
{"data":{"name":"c"},"mark":{"type":"rule","strokeWidth":1,"clip":true},
 "encoding":{"x":{"field":"t","type":"temporal","scale":{"type":"utc","domain":[{"year":2021,"month":11,"date":13,"hours":7,"minutes":37,"utc":true},{"year":2021,"month":12,"date":18,"hours":8,"minutes":31,"utc":true}]},"axis":null},
 "y":{"field":"l","type":"quantitative","scale":{"domain":[3727.4,4924.1],"nice":false,"zero":false},"axis":null},"y2":{"field":"h"},
 "color":{"condition":{"test":"datum.c >= datum.o","value":"#26a69a"},"value":"#ef5350"}}},
{"data":{"name":"c"},"mark":{"type":"bar","width":4.6,"clip":true},
 "encoding":{"x":{"field":"t","type":"temporal","scale":{"type":"utc","domain":[{"year":2021,"month":11,"date":13,"hours":7,"minutes":37,"utc":true},{"year":2021,"month":12,"date":18,"hours":8,"minutes":31,"utc":true}]},"axis":null},
 "y":{"field":"o","type":"quantitative","scale":{"domain":[3727.4,4924.1],"nice":false,"zero":false},"axis":null},"y2":{"field":"c"},
 "color":{"condition":{"test":"datum.c >= datum.o","value":"#26a69a"},"value":"#ef5350"}}},
{"data":{"name":"cp"},"mark":{"type":"rule","color":"#9aa6b0","strokeDash":[1,2],"strokeWidth":1},
 "encoding":{"y":{"field":"p","type":"quantitative","scale":{"domain":[3727.4,4924.1],"nice":false,"zero":false},"axis":null}}},
{"data":{"name":"eqh"},"mark":{"type":"rule","color":"#d1d4dc","strokeWidth":1.5},
 "encoding":{"x":{"field":"t1","type":"temporal","scale":{"type":"utc","domain":[{"year":2021,"month":11,"date":13,"hours":7,"minutes":37,"utc":true},{"year":2021,"month":12,"date":18,"hours":8,"minutes":31,"utc":true}]},"axis":null},"x2":{"field":"t2"},
 "y":{"field":"p","type":"quantitative","scale":{"domain":[3727.4,4924.1],"nice":false,"zero":false},"axis":null}}},
{"data":{"name":"eqh"},"mark":{"type":"point","shape":"M -1.4 -1 L 0 0 L -1.4 1","filled":false,"stroke":"#d1d4dc","strokeWidth":1.5,"size":169,"opacity":1},
 "encoding":{"x":{"field":"t2","type":"temporal","scale":{"type":"utc","domain":[{"year":2021,"month":11,"date":13,"hours":7,"minutes":37,"utc":true},{"year":2021,"month":12,"date":18,"hours":8,"minutes":31,"utc":true}]},"axis":null},
 "y":{"field":"p","type":"quantitative","scale":{"domain":[3727.4,4924.1],"nice":false,"zero":false},"axis":null}}},
{"data":{"name":"dl"},"mark":{"type":"rule","color":"#d1d4dc","strokeDash":[5,5],"strokeWidth":1},
 "encoding":{"x":{"field":"t1","type":"temporal","scale":{"type":"utc","domain":[{"year":2021,"month":11,"date":13,"hours":7,"minutes":37,"utc":true},{"year":2021,"month":12,"date":18,"hours":8,"minutes":31,"utc":true}]},"axis":null},"x2":{"field":"t2"},
 "y":{"field":"p","type":"quantitative","scale":{"domain":[3727.4,4924.1],"nice":false,"zero":false},"axis":null}}},
{"data":{"name":"zt"},"mark":{"type":"text","font":"Open Sans","fontSize":16,"fontWeight":600,"color":"#eceef3","align":"center","baseline":"middle"},
 "encoding":{"x":{"field":"t","type":"temporal","scale":{"type":"utc","domain":[{"year":2021,"month":11,"date":13,"hours":7,"minutes":37,"utc":true},{"year":2021,"month":12,"date":18,"hours":8,"minutes":31,"utc":true}]},"axis":null},
 "y":{"field":"p","type":"quantitative","scale":{"domain":[3727.4,4924.1],"nice":false,"zero":false},"axis":null},"text":{"field":"s"}}},
{"data":{"name":"at"},"mark":{"type":"text","font":"Open Sans","fontSize":16,"color":"#f0f1f5","align":"center","baseline":"middle"},
 "encoding":{"x":{"field":"t","type":"temporal","scale":{"type":"utc","domain":[{"year":2021,"month":11,"date":13,"hours":7,"minutes":37,"utc":true},{"year":2021,"month":12,"date":18,"hours":8,"minutes":31,"utc":true}]},"axis":null},
 "y":{"field":"p","type":"quantitative","scale":{"domain":[3727.4,4924.1],"nice":false,"zero":false},"axis":null},"text":{"field":"s"}}},
{"data":{"name":"ti"},"mark":{"type":"text","font":"Open Sans","fontSize":15,"fontWeight":600,"color":"#b2b5be","align":"left","baseline":"middle"},
 "encoding":{"x":{"field":"t","type":"temporal","scale":{"type":"utc","domain":[{"year":2021,"month":11,"date":13,"hours":7,"minutes":37,"utc":true},{"year":2021,"month":12,"date":18,"hours":8,"minutes":31,"utc":true}]},"axis":null},
 "y":{"field":"p","type":"quantitative","scale":{"domain":[3727.4,4924.1],"nice":false,"zero":false},"axis":null},"text":{"field":"s"}}},
{"data":{"name":"tag"},"mark":{"type":"rect","color":"#26a69a","cornerRadius":2},
 "encoding":{"x":{"field":"t1","type":"temporal","scale":{"type":"utc","domain":[{"year":2021,"month":11,"date":13,"hours":7,"minutes":37,"utc":true},{"year":2021,"month":12,"date":18,"hours":8,"minutes":31,"utc":true}]},"axis":null},"x2":{"field":"t2"},
 "y":{"field":"p1","type":"quantitative","scale":{"domain":[3727.4,4924.1],"nice":false,"zero":false},"axis":null},"y2":{"field":"p2"}}},
{"data":{"name":"lowb"},"mark":{"type":"rect","color":"#ffffff"},
 "encoding":{"x":{"field":"t1","type":"temporal","scale":{"type":"utc","domain":[{"year":2021,"month":11,"date":13,"hours":7,"minutes":37,"utc":true},{"year":2021,"month":12,"date":18,"hours":8,"minutes":31,"utc":true}]},"axis":null},"x2":{"field":"t2"},
 "y":{"field":"p1","type":"quantitative","scale":{"domain":[3727.4,4924.1],"nice":false,"zero":false},"axis":null},"y2":{"field":"p2"}}},
{"data":{"name":"tagt"},"mark":{"type":"text","font":"Roboto","fontSize":14,"fontWeight":"bold","color":"#ffffff","align":"left","baseline":"middle"},
 "encoding":{"x":{"field":"t","type":"temporal","scale":{"type":"utc","domain":[{"year":2021,"month":11,"date":13,"hours":7,"minutes":37,"utc":true},{"year":2021,"month":12,"date":18,"hours":8,"minutes":31,"utc":true}]},"axis":null},
 "y":{"field":"p","type":"quantitative","scale":{"domain":[3727.4,4924.1],"nice":false,"zero":false},"axis":null},"text":{"field":"s"}}},
{"data":{"name":"bad"},"mark":{"type":"rect","fill":"#151924","stroke":"#434651","strokeWidth":1,"cornerRadius":3},
 "encoding":{"x":{"field":"t1","type":"temporal","scale":{"type":"utc","domain":[{"year":2021,"month":11,"date":13,"hours":7,"minutes":37,"utc":true},{"year":2021,"month":12,"date":18,"hours":8,"minutes":31,"utc":true}]},"axis":null},"x2":{"field":"t2"},
 "y":{"field":"p1","type":"quantitative","scale":{"domain":[3727.4,4924.1],"nice":false,"zero":false},"axis":null},"y2":{"field":"p2"}}},
{"data":{"name":"badt"},"mark":{"type":"text","font":"Roboto","fontSize":13,"color":"#d1d4dc","align":"center","baseline":"middle"},
 "encoding":{"x":{"field":"t","type":"temporal","scale":{"type":"utc","domain":[{"year":2021,"month":11,"date":13,"hours":7,"minutes":37,"utc":true},{"year":2021,"month":12,"date":18,"hours":8,"minutes":31,"utc":true}]},"axis":null},
 "y":{"field":"p","type":"quantitative","scale":{"domain":[3727.4,4924.1],"nice":false,"zero":false},"axis":null},"text":{"field":"s"}}}
]
},
{
"width":1707,"height":67,
"layer":[
{"data":{"name":"tk"},"mark":{"type":"rule","color":"#232632","strokeWidth":1},
 "encoding":{"x":{"field":"t","type":"temporal","scale":{"type":"utc","domain":[{"year":2021,"month":11,"date":13,"hours":7,"minutes":37,"utc":true},{"year":2021,"month":12,"date":18,"hours":8,"minutes":31,"utc":true}]},"axis":null}}},
{"data":{"name":"c"},"transform":[{"window":[{"op":"lag","field":"m","as":"mp"}],"sort":[{"field":"t","order":"ascending"}]}],
 "mark":{"type":"bar","width":4.6},
 "encoding":{"x":{"field":"t","type":"temporal","scale":{"type":"utc","domain":[{"year":2021,"month":11,"date":13,"hours":7,"minutes":37,"utc":true},{"year":2021,"month":12,"date":18,"hours":8,"minutes":31,"utc":true}]},"axis":null},
 "y":{"field":"m","type":"quantitative","scale":{"domain":[-41.7,25.3],"nice":false,"zero":false},"axis":{"orient":"right","values":[0],"format":".2f","grid":false,"title":null,"labelPadding":13}},
 "color":{"condition":[{"test":"datum.m >= 0 && datum.m >= datum.mp","value":"#26a69a"},{"test":"datum.m >= 0","value":"#b2dfdb"},{"test":"datum.m < datum.mp","value":"#ff5252"}],"value":"#ffcdd2"}}},
{"data":{"name":"ml"},"mark":{"type":"line","color":"#2962ff","strokeWidth":1.5,"clip":true,"interpolate":"monotone"},
 "encoding":{"x":{"field":"t","type":"temporal","scale":{"type":"utc","domain":[{"year":2021,"month":11,"date":13,"hours":7,"minutes":37,"utc":true},{"year":2021,"month":12,"date":18,"hours":8,"minutes":31,"utc":true}]},"axis":null},
 "y":{"field":"b","type":"quantitative","scale":{"domain":[-41.7,25.3],"nice":false,"zero":false},"axis":{"orient":"right","values":[0],"format":".2f","grid":false,"title":null,"labelPadding":13}}}},
{"data":{"name":"ml"},"mark":{"type":"line","color":"#ff6d00","strokeWidth":1.5,"clip":true,"interpolate":"monotone"},
 "encoding":{"x":{"field":"t","type":"temporal","scale":{"type":"utc","domain":[{"year":2021,"month":11,"date":13,"hours":7,"minutes":37,"utc":true},{"year":2021,"month":12,"date":18,"hours":8,"minutes":31,"utc":true}]},"axis":null},
 "y":{"field":"s","type":"quantitative","scale":{"domain":[-41.7,25.3],"nice":false,"zero":false},"axis":{"orient":"right","values":[0],"format":".2f","grid":false,"title":null,"labelPadding":13}}}}
]
},
{
"width":1707,"height":67,
"layer":[
{"data":{"name":"band"},"mark":{"type":"rect","color":"#7e57c2","opacity":0.1},
 "encoding":{"y":{"field":"a","type":"quantitative","scale":{"domain":[12.2,82.2],"nice":false,"zero":false},"axis":{"orient":"right","values":[40,80],"format":".2f","grid":false,"title":null,"labelPadding":13}},"y2":{"field":"b"}}},
{"data":{"name":"rl"},"mark":{"type":"rule","color":"#787b86","strokeDash":[6,5],"strokeWidth":1},
 "encoding":{"y":{"field":"r","type":"quantitative","scale":{"domain":[12.2,82.2],"nice":false,"zero":false},"axis":{"orient":"right","values":[40,80],"format":".2f","grid":false,"title":null,"labelPadding":13}}}},
{"data":{"name":"c"},"mark":{"type":"line","color":"#7e57c2","strokeWidth":1.5},
 "encoding":{"x":{"field":"t","type":"temporal","scale":{"type":"utc","domain":[{"year":2021,"month":11,"date":13,"hours":7,"minutes":37,"utc":true},{"year":2021,"month":12,"date":18,"hours":8,"minutes":31,"utc":true}]},
  "axis":{"orient":"bottom","grid":true,"title":null,"labelPadding":10,"labelFontSize":14,
   "values":[{"year":2021,"month":11,"date":15,"utc":true},{"year":2021,"month":11,"date":18,"utc":true},{"year":2021,"month":11,"date":22,"utc":true},{"year":2021,"month":11,"date":25,"utc":true},{"year":2021,"month":11,"date":28,"utc":true},{"year":2021,"month":12,"date":1,"utc":true},{"year":2021,"month":12,"date":3,"hours":12,"utc":true},{"year":2021,"month":12,"date":6,"utc":true},{"year":2021,"month":12,"date":9,"utc":true},{"year":2021,"month":12,"date":13,"utc":true},{"year":2021,"month":12,"date":16,"utc":true}],
   "labelExpr":"utchours(datum.value) == 12 ? '14:00' : (utcdate(datum.value) == 1 ? 'Dec' : '' + utcdate(datum.value))",
   "labelFontWeight":{"condition":{"test":"utcdate(datum.value) == 1 && utchours(datum.value) == 0","value":"bold"},"value":"normal"}}},
 "y":{"field":"r","type":"quantitative","scale":{"domain":[12.2,82.2],"nice":false,"zero":false},"axis":{"orient":"right","values":[40,80],"format":".2f","grid":false,"title":null,"labelPadding":13}}}}
]
}
]
}
